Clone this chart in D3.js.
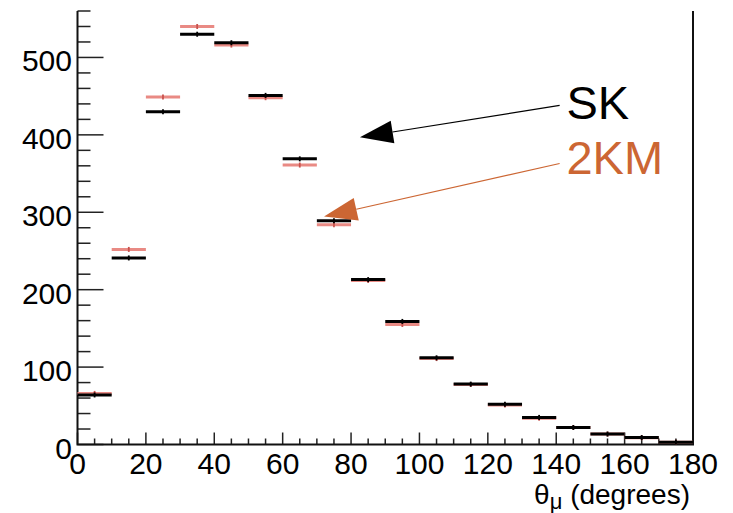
<!DOCTYPE html>
<html>
<head>
<meta charset="utf-8">
<script src="https://cdn.jsdelivr.net/npm/d3@7"></script>
<style>
  html, body { margin: 0; padding: 0; background: #fff; }
  svg { display: block; font-family: "Liberation Sans", Arial, Helvetica, sans-serif; }
</style>
</head>
<body>
<svg id="chart" width="733" height="513"></svg>
<script>
// Muon angle distribution, 10-degree bins
const binEdges = [0, 10, 20, 30, 40, 50, 60, 70, 80, 90, 100, 110, 120, 130, 140, 150, 160, 170, 180];
const skCounts = [64, 241, 430, 530, 519, 451, 369, 289, 213, 159, 112, 78, 52, 35, 22, 13.5, 9, 3];
const kmCounts = [66, 252, 449, 540, 516, 448, 361, 284, 212, 155, 111, 77.5, 51, 34, 22, 13.5, 8.8, 2.8];
const xTicks = [0, 20, 40, 60, 80, 100, 120, 140, 160, 180];
const yTicks = [0, 100, 200, 300, 400, 500];
const seriesNames = ["SK", "2KM"];

// Annotation arrows in data coordinates: [label x, label y, tail x, tail y, tip x, tip y]
const skArrow = [143, 420, 141, 438, 82.6, 397];
const kmArrow = [143, 349, 141, 363, 72.1, 294.6];

const W = 733, H = 513;
const margin = { left: 77.5, right: 40, top: 11, bottom: 68.5 };
const svg = d3.select("#chart");

const x = d3.scaleLinear().domain([0, 180]).range([margin.left, W - margin.right]);
const y = d3.scaleLinear().domain([0, 560]).range([H - margin.bottom, margin.top]);

const black = "#000";
const salmon = "#e98a84";
const orange = "#cc6633";

// Minor ticks on y (every 20) and x (every 5)
const yMinor = d3.range(0, 561, 20).filter(v => v % 100 !== 0);
const xMinor = d3.range(0, 181, 5).filter(v => v % 20 !== 0);

const axes = svg.append("g");
axes.selectAll(".ymin").data(yMinor).join("line")
  .attr("x1", x(0)).attr("x2", x(0) + 13)
  .attr("y1", d => y(d)).attr("y2", d => y(d))
  .attr("stroke", "#222").attr("stroke-width", 1.5);
axes.selectAll(".ymaj").data(yTicks).join("line")
  .attr("x1", x(0)).attr("x2", x(0) + 26)
  .attr("y1", d => y(d)).attr("y2", d => y(d))
  .attr("stroke", "#222").attr("stroke-width", 1.5);
axes.selectAll(".xmin").data(xMinor).join("line")
  .attr("x1", d => x(d)).attr("x2", d => x(d))
  .attr("y1", y(0)).attr("y2", y(0) - 6)
  .attr("stroke", "#222").attr("stroke-width", 1.5);
axes.selectAll(".xmaj").data(xTicks).join("line")
  .attr("x1", d => x(d)).attr("x2", d => x(d))
  .attr("y1", y(0)).attr("y2", y(0) - 12)
  .attr("stroke", "#222").attr("stroke-width", 1.5);

// Frame: left, bottom, right
axes.append("path")
  .attr("d", `M${x(0)},${y(560)} V${y(0)} H${x(180)} V${y(560)}`)
  .attr("fill", "none").attr("stroke", "#111").attr("stroke-width", 2);

// Tick labels
axes.selectAll(".ylab").data(yTicks).join("text")
  .attr("x", x(0) - 5.5).attr("y", d => y(d) + 14)
  .attr("text-anchor", "end").attr("font-size", 30).attr("fill", black)
  .text(d => d);
axes.selectAll(".xlab").data(xTicks).join("text")
  .attr("x", d => x(d)).attr("y", y(0) + 29.5)
  .attr("text-anchor", "middle").attr("font-size", 30).attr("fill", black)
  .text(d => d);

// Axis title
const title = axes.append("text")
  .attr("x", x(180) - 3).attr("y", 504)
  .attr("text-anchor", "end").attr("font-size", 28).attr("fill", black);
title.append("tspan").text("θ");
title.append("tspan").attr("font-size", 22).attr("dy", 5).text("μ");
title.append("tspan").attr("dy", -5).text(" (degrees)");

// Histogram steps as horizontal bin segments with a small centre marker
function drawSeries(values, color, markColor, width) {
  const g = svg.append("g");
  const bins = values.map((v, i) => ({ x0: binEdges[i], x1: binEdges[i + 1], v }));
  g.selectAll(".bin").data(bins).join("line")
    .attr("x1", d => x(d.x0)).attr("x2", d => x(d.x1))
    .attr("y1", d => y(d.v)).attr("y2", d => y(d.v))
    .attr("stroke", color).attr("stroke-width", width);
  g.selectAll(".err").data(bins).join("line")
    .attr("x1", d => x((d.x0 + d.x1) / 2)).attr("x2", d => x((d.x0 + d.x1) / 2))
    .attr("y1", d => y(d.v) - 2.5).attr("y2", d => y(d.v) + 2.5)
    .attr("stroke", markColor).attr("stroke-width", 1.8);
}
drawSeries(kmCounts, salmon, "#c8524d", 3);
drawSeries(skCounts, black, "#000", 3);

// Arrow annotations
function arrow(spec, color, label) {
  const [lx, ly, tx, ty, hx, hy] = spec;
  const px = x(tx), py = y(ty), qx = x(hx), qy = y(hy);
  const dx = qx - px, dy = qy - py, len = Math.hypot(dx, dy);
  const ux = dx / len, uy = dy / len;
  const headLen = 33, half = 11.5;
  const bx = qx - ux * headLen, by = qy - uy * headLen;
  svg.append("line")
    .attr("x1", px).attr("y1", py).attr("x2", bx).attr("y2", by)
    .attr("stroke", color).attr("stroke-width", 1.2);
  svg.append("path")
    .attr("d", `M${qx},${qy} L${bx - uy * half},${by + ux * half} L${bx + uy * half},${by - ux * half} Z`)
    .attr("fill", color);
  svg.append("text")
    .attr("x", x(lx)).attr("y", y(ly))
    .attr("font-size", 47).attr("fill", color)
    .text(label);
}
arrow(skArrow, black, seriesNames[0]);
arrow(kmArrow, orange, seriesNames[1]);
</script>
</body>
</html>
